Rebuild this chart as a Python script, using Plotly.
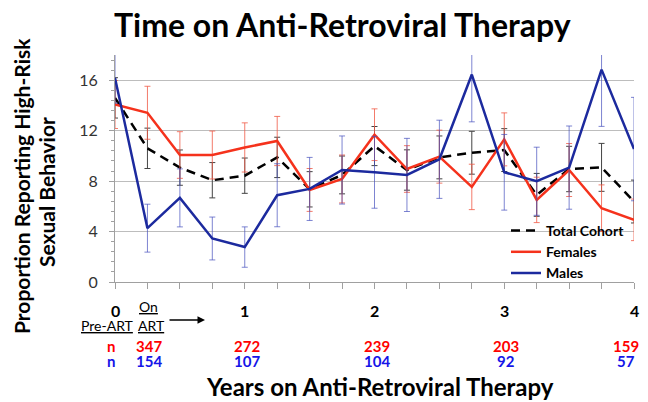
import plotly.graph_objects as go

# ---- data (x = survey visit index, 0 = pre-ART, 4 visits per year) ----
visits = list(range(17))
total = [14.6, 10.6, 9.07, 8.07, 8.43, 9.88, 7.35, 8.49, 10.78, 8.88, 9.88, 10.25, 10.46, 6.91, 8.96, 9.09, 6.38]
total_err = [1.6, 1.6, 1.4, 1.4, 1.4, 1.6, 1.4, 1.5, 1.55, 1.6, 1.7, 1.7, 1.7, 1.7, 1.8, 1.9, 1.7]
females = [14.07, 13.42, 10.07, 10.07, 10.67, 11.18, 7.30, 8.17, 11.68, 8.96, 9.94, 7.54, 11.31, 6.51, 8.88, 5.85, 4.93]
females_err = [1.9, 2.1, 1.85, 1.9, 1.95, 1.95, 1.7, 1.9, 2.05, 1.85, 2.1, 1.8, 2.1, 1.8, 2.1, 1.85, 1.65]
males = [16.18, 4.27, 6.67, 3.45, 2.77, 6.88, 7.38, 8.88, 8.70, 8.49, 9.73, 16.45, 8.70, 7.99, 9.07, 16.84, 10.54]
males_err = [2.0, 1.9, 2.3, 1.7, 1.6, 2.5, 2.5, 2.7, 2.85, 2.9, 3.1, 3.75, 3.0, 2.7, 3.3, 4.5, 4.1]

years = [0, 1, 2, 3, 4]
n_female = [347, 272, 239, 203, 159]
n_male = [154, 107, 104, 92, 57]
y_ticks = [0, 4, 8, 12, 16]

RED = "#F5321C"
BLUE = "#1C2A9E"
FONT = "Lato"

# plot area in page pixels (page has an 8px body margin)
OFF = 8
L, R, T, B = 115, 634, 55, 282
W, H = 648, 402


def px(xp):
    return (xp - L) / (R - L)


def py(yp):
    return (B - yp) / (B - T)


fig = go.Figure()
fig.add_trace(go.Scatter(
    x=visits, y=total, mode="lines", name="Total Cohort",
    line=dict(color="black", width=2.5, dash="9px,6px"),
    error_y=dict(type="data", array=total_err, color="#444444", thickness=1, width=3),
))
fig.add_trace(go.Scatter(
    x=visits, y=females, mode="lines", name="Females",
    line=dict(color=RED, width=2.5),
    error_y=dict(type="data", array=females_err, color="rgba(240,90,70,0.8)", thickness=1, width=3),
))
fig.add_trace(go.Scatter(
    x=visits, y=males, mode="lines", name="Males",
    line=dict(color=BLUE, width=2.5),
    error_y=dict(type="data", array=males_err, color="rgba(70,80,190,0.7)", thickness=1, width=3),
))

fig.update_xaxes(
    range=[0, 16], showgrid=False, zeroline=False, showline=True, linecolor="#A0A0A0",
    ticks="outside", ticklen=6, tickcolor="#A0A0A0", tickmode="linear", tick0=0, dtick=1,
    showticklabels=False,
)
fig.update_yaxes(
    range=[0, 18], tickvals=y_ticks, showgrid=True, gridcolor="#BDBDBD", gridwidth=1,
    zeroline=False, showline=True, linecolor="#A0A0A0",
    ticks="outside", ticklen=5, tickcolor="#A0A0A0",
    minor=dict(dtick=0.8, tick0=0, ticks="outside", ticklen=3, tickcolor="#A0A0A0", showgrid=False),
    tickfont=dict(family=FONT, size=16, color="#333333"), ticklabelstandoff=8,
)

C = dict(showarrow=False, xanchor="center", yanchor="middle", borderpad=0)
ann = []
ann.append(dict(text="<b>Time on Anti-Retroviral Therapy</b>", xref="paper", yref="paper",
                x=px(342), y=py(24), font=dict(family=FONT, size=32, color="black"), **C))
ann.append(dict(text="<b>Proportion Reporting High-Risk</b>", xref="paper", yref="paper",
                x=px(21), y=py(186), textangle=-90,
                font=dict(family=FONT, size=21, color="black"), **C))
ann.append(dict(text="<b>Sexual Behavior</b>", xref="paper", yref="paper",
                x=px(46), y=py(192), textangle=-90,
                font=dict(family=FONT, size=21, color="black"), **C))
ann.append(dict(text="<b>Years on Anti-Retroviral Therapy</b>", xref="paper", yref="paper",
                x=px(380), y=py(386), font=dict(family=FONT, size=24, color="black"), **C))
for yr in years:
    ann.append(dict(text=f"<b>{yr}</b>", x=yr * 4, xref="x", yref="paper", y=py(310),
                    font=dict(family=FONT, size=16, color="black"), **C))
ann.append(dict(text="<u>Pre-ART</u>", x=0, xref="x", xshift=-8, yref="paper", y=py(325),
                font=dict(family=FONT, size=14, color="black"), **C))
ann.append(dict(text="<u>On</u>", x=1, xref="x", xshift=1, yref="paper", y=py(306),
                font=dict(family=FONT, size=14, color="black"), **C))
ann.append(dict(text="<u>ART</u>", x=1, xref="x", xshift=4, yref="paper", y=py(325),
                font=dict(family=FONT, size=14, color="black"), **C))
ann.append(dict(text="", x=px(205) * 16, xref="x", yref="paper", y=py(320),
                ax=-37, ay=0, showarrow=True, arrowhead=2, arrowsize=1, arrowwidth=1.5,
                arrowcolor="black"))
ann.append(dict(text="<b>n</b>", x=0, xref="x", xshift=-4, yref="paper", y=py(345.5),
                font=dict(family=FONT, size=15, color="#FF0000"), **C))
ann.append(dict(text="<b>n</b>", x=0, xref="x", xshift=-4, yref="paper", y=py(361),
                font=dict(family=FONT, size=15, color="#1515E8"), **C))
for i, (nf, nm) in enumerate(zip(n_female, n_male)):
    xi = 1 if i == 0 else years[i] * 4
    sh = -8 if i == len(years) - 1 else 2
    ann.append(dict(text=f"<b>{nf}</b>", x=xi, xref="x", xshift=sh, yref="paper", y=py(345.5),
                    font=dict(family=FONT, size=15, color="#FF0000"), **C))
    ann.append(dict(text=f"<b>{nm}</b>", x=xi, xref="x", xshift=sh, yref="paper", y=py(361),
                    font=dict(family=FONT, size=15, color="#1515E8"), **C))

# white patch hiding the gridline behind the legend (drawn beneath the traces)
shapes = [dict(type="rect", xref="paper", yref="paper", x0=px(513), x1=px(628),
               y0=py(281), y1=py(223), fillcolor="white", line=dict(width=0), layer="between")]

fig.update_layout(
    width=W, height=H,
    margin=dict(l=L - OFF, r=W - (R - OFF), t=T - OFF, b=H - (B - OFF), pad=0),
    paper_bgcolor="white", plot_bgcolor="white",
    showlegend=True,
    legend=dict(x=px(506), xanchor="left", y=py(215), yanchor="top",
                bgcolor="rgba(0,0,0,0)", borderwidth=0, tracegroupgap=0,
                font=dict(family=FONT, size=14, color="black", weight="bold")),
    annotations=ann,
    shapes=shapes,
    font=dict(family=FONT),
)

fig.write_html("out.html")
